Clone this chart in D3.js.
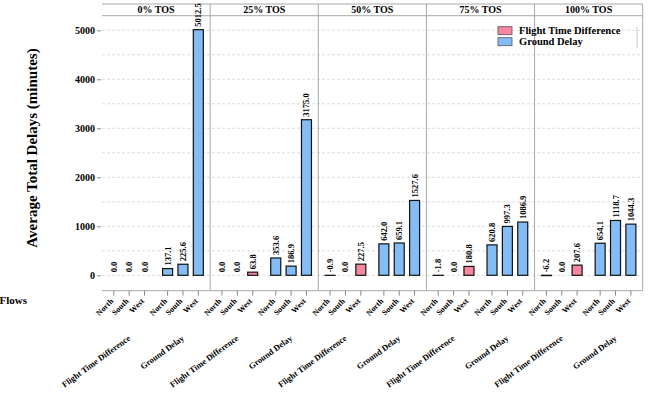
<!DOCTYPE html>
<html>
<head>
<meta charset="utf-8">
<script src="https://cdn.jsdelivr.net/npm/d3@7"></script>
<style>
  body { margin: 0; background: #fff; }
</style>
</head>
<body>
<div id="chart"></div>
<script>
const svgWidth = 652;
const svgHeight = 394;

// facets, groups and categories
const panels = ["0% TOS", "25% TOS", "50% TOS", "75% TOS", "100% TOS"];
const groups = ["Flight Time Difference", "Ground Delay"];
const regions = ["North", "South", "West"];

// values per panel, in region order
const flightTimeDiff = [
    [0.0, 0.0, 0.0],
    [0.0, 0.0, 63.8],
    [-0.9, 0.0, 227.5],
    [-1.8, 0.0, 180.8],
    [-6.2, 0.0, 207.6]
];
const groundDelay = [
    [137.1, 225.6, 5012.5],
    [353.6, 186.9, 3175.0],
    [642.0, 659.1, 1527.6],
    [620.8, 997.3, 1086.9],
    [654.1, 1118.7, 1044.3]
];
const yTicks = [0, 1000, 2000, 3000, 4000, 5000];
const gridValues = [0, 500, 1000, 1500, 2000, 2500, 3000, 3500, 4000, 4500, 5000];

const colors = { "Flight Time Difference": "#f7869f", "Ground Delay": "#84bdf5" };

const plot = { left: 102, right: 642.7, stripTop: 4, top: 15.7, bottom: 290.7 };
const serif = "Liberation Serif";

const svg = d3.select('#chart')
    .append('svg')
    .attr('width', svgWidth)
    .attr('height', svgHeight);

// scales
const panelScale = d3.scaleBand()
    .domain(panels)
    .range([plot.left, plot.right]);

const groupScale = d3.scaleBand()
    .domain(groups)
    .range([0, panelScale.bandwidth()])
    .paddingInner(0.143)
    .paddingOuter(0.077);

const regionScale = d3.scalePoint()
    .domain(regions)
    .range([0, groupScale.bandwidth()])
    .padding(0.5);

const yScale = d3.scaleLinear()
    .domain([0, 5000])
    .range([275.3, 30.3]);

const barWidth = 10;

// flatten into records
const records = [];
panels.forEach((p, i) => {
    regions.forEach((r, j) => {
        records.push({ panel: p, group: groups[0], region: r, value: flightTimeDiff[i][j] });
        records.push({ panel: p, group: groups[1], region: r, value: groundDelay[i][j] });
    });
});
const xPos = d => panelScale(d.panel) + groupScale(d.group) + regionScale(d.region);

// helper for bold serif text
function label(sel, size) {
    return sel.attr("font-family", serif)
        .attr("font-weight", "bold")
        .attr("font-size", size)
        .attr("fill", "#000");
}

// grid lines
svg.append("g")
    .selectAll("line")
    .data(gridValues)
    .enter()
    .append("line")
    .attr("x1", plot.left)
    .attr("x2", plot.right)
    .attr("y1", d => yScale(d))
    .attr("y2", d => yScale(d))
    .attr("stroke", "#d4d4d4")
    .attr("stroke-width", 0.8)
    .style("stroke-dasharray", "3,2");

// strip and panel borders
svg.append("line")
    .attr("x1", plot.left).attr("x2", plot.right)
    .attr("y1", plot.stripTop).attr("y2", plot.stripTop)
    .attr("stroke", "#a8a8a8");
svg.append("line")
    .attr("x1", plot.left).attr("x2", plot.right)
    .attr("y1", plot.top).attr("y2", plot.top)
    .attr("stroke", "#a8a8a8");

svg.append("g")
    .selectAll("line")
    .data(panels.slice(1))
    .enter()
    .append("line")
    .attr("x1", d => panelScale(d))
    .attr("x2", d => panelScale(d))
    .attr("y1", plot.stripTop)
    .attr("y2", plot.bottom)
    .attr("stroke", "#a8a8a8");

svg.append("line")
    .attr("x1", plot.right).attr("x2", plot.right)
    .attr("y1", plot.stripTop).attr("y2", plot.bottom)
    .attr("stroke", "#a8a8a8");

// x axis baseline
svg.append("line")
    .attr("x1", plot.left).attr("x2", plot.right)
    .attr("y1", plot.bottom).attr("y2", plot.bottom)
    .attr("stroke", "#a8a8a8");

// strip labels
svg.append("g")
    .selectAll("text")
    .data(panels)
    .enter()
    .append("text")
    .call(label, 10)
    .attr("x", d => panelScale(d) + panelScale.bandwidth() / 2)
    .attr("y", 13)
    .attr("text-anchor", "middle")
    .text(d => d);

// bars
svg.append("g")
    .selectAll("rect")
    .data(records)
    .enter()
    .append("rect")
    .attr("x", d => xPos(d) - barWidth / 2)
    .attr("y", d => yScale(Math.max(d.value, 0)))
    .attr("width", barWidth)
    .attr("height", d => Math.abs(yScale(d.value) - yScale(0)))
    .attr("fill", d => colors[d.group])
    .attr("stroke", "#111")
    .attr("stroke-width", 1.2);

// value labels
svg.append("g")
    .selectAll("text")
    .data(records)
    .enter()
    .append("text")
    .call(label, 8.5)
    .attr("transform", d => `translate(${xPos(d)}, ${yScale(Math.max(d.value, 0)) - 3}) rotate(-90)`)
    .attr("dy", "0.35em")
    .attr("text-anchor", "start")
    .text(d => d.value.toFixed(1));

// y axis
const yAxis = svg.append("g")
    .attr("transform", `translate(${plot.left - 1}, 0)`)
    .call(d3.axisLeft(yScale).tickValues(yTicks).tickSize(4).tickPadding(2).tickFormat(d3.format("d")));
yAxis.select(".domain").remove();
yAxis.selectAll(".tick line").attr("stroke", "#888");
yAxis.selectAll(".tick text").call(label, 10);

svg.append("text")
    .call(label, 15)
    .attr("transform", `translate(37, 148) rotate(-90)`)
    .attr("text-anchor", "middle")
    .text("Average Total Delays (minutes)");

// x ticks
svg.append("g")
    .selectAll("line")
    .data(records)
    .enter()
    .append("line")
    .attr("x1", d => xPos(d))
    .attr("x2", d => xPos(d))
    .attr("y1", plot.bottom)
    .attr("y2", plot.bottom + 5)
    .attr("stroke", "#888");

// region labels
svg.append("g")
    .selectAll("text")
    .data(records)
    .enter()
    .append("text")
    .call(label, 8)
    .attr("transform", d => `translate(${xPos(d) - 2}, ${plot.bottom + 9}) rotate(-45)`)
    .attr("dy", "0.35em")
    .attr("text-anchor", "end")
    .text(d => d.region);

// group labels
const groupLabels = [];
panels.forEach(p => groups.forEach(g => groupLabels.push({ panel: p, group: g })));
svg.append("g")
    .selectAll("text")
    .data(groupLabels)
    .enter()
    .append("text")
    .call(label, 8.5)
    .attr("transform", d => `translate(${panelScale(d.panel) + groupScale(d.group) + groupScale.bandwidth() / 2}, 337) rotate(-36)`)
    .attr("dy", "0.35em")
    .attr("text-anchor", "end")
    .text(d => d.group);

// x axis title, cut by the left edge as in the source
svg.append("text")
    .call(label, 11)
    .attr("x", 27)
    .attr("y", 304)
    .attr("text-anchor", "end")
    .text("Total Flows");

// legend
const legend = svg.append("g")
    .selectAll("g")
    .data(groups)
    .enter()
    .append("g")
    .attr("transform", (d, i) => `translate(498, ${26.7 + i * 11})`);

legend.append("rect")
    .attr("width", 14)
    .attr("height", 8)
    .attr("fill", d => colors[d])
    .attr("stroke", "#555")
    .attr("stroke-width", 0.8);

legend.append("text")
    .call(label, 10.5)
    .attr("x", 21)
    .attr("y", 7)
    .text(d => d);

svg.append("line")
    .attr("x1", 637).attr("x2", 637)
    .attr("y1", 27).attr("y2", 48)
    .attr("stroke", "#c8c8c8");
</script>
</body>
</html>
